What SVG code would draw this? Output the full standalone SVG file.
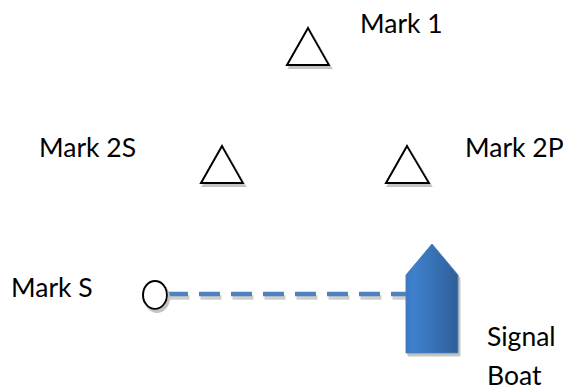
<svg xmlns="http://www.w3.org/2000/svg" width="565" height="387" viewBox="0 0 565 387">
<defs>
<style>
.lbl{font-family:"Lato","Liberation Sans",sans-serif;font-size:26.5px;fill:#000}
.mark{fill:#fff;stroke:#000;stroke-width:2;stroke-linejoin:miter}
.dash{stroke-width:4.5;stroke-dasharray:21 11;fill:none}
</style>
<filter id="sh" x="-20%" y="-20%" width="150%" height="150%">
<feOffset in="SourceAlpha" dx="1.5" dy="3" result="o"/>
<feGaussianBlur in="o" stdDeviation="0.6" result="b"/>
<feFlood flood-color="#c4c4c4"/>
<feComposite in2="b" operator="in" result="s"/>
<feMerge><feMergeNode in="s"/><feMergeNode in="SourceGraphic"/></feMerge>
</filter>
<linearGradient id="boatg" x1="0" y1="0" x2="1" y2="0">
<stop offset="0" stop-color="#3a78c4"/>
<stop offset="0.15" stop-color="#3e80cc"/>
<stop offset="1" stop-color="#2e5f99"/>
</linearGradient>
</defs>
<rect width="565" height="387" fill="#fff"/>
<g id="connectors">
<line class="dash" x1="168.5" y1="297.5" x2="407.5" y2="297.5" stroke="#cfcfcf"/>
<line class="dash" x1="167" y1="294" x2="406" y2="294" stroke="#4f81bd"/>
</g>
<g id="mark1">
<polygon class="mark" points="308,28 287,65 329,65" filter="url(#sh)"/>
<text class="lbl" x="360" y="33">Mark 1</text>
</g>
<g id="mark2s">
<polygon class="mark" points="222,146 201,183 243,183" filter="url(#sh)"/>
<text class="lbl" x="39" y="157">Mark 2S</text>
</g>
<g id="mark2p">
<polygon class="mark" points="407,146 386,183 429,183" filter="url(#sh)"/>
<text class="lbl" x="465" y="157">Mark 2P</text>
</g>
<g id="marks">
<ellipse cx="155" cy="295" rx="12" ry="14" fill="#fff" stroke="#000" stroke-width="2" filter="url(#sh)"/>
<text class="lbl" x="11" y="297">Mark S</text>
</g>
<g id="signal-boat">
<polygon points="432,244 458,275 458,353 406,353 406,275" fill="url(#boatg)" stroke="#4a7ebb" stroke-width="1" filter="url(#sh)"/>
<text class="lbl" x="487" y="346">Signal</text>
<text class="lbl" x="487" y="385">Boat</text>
</g>
</svg>
